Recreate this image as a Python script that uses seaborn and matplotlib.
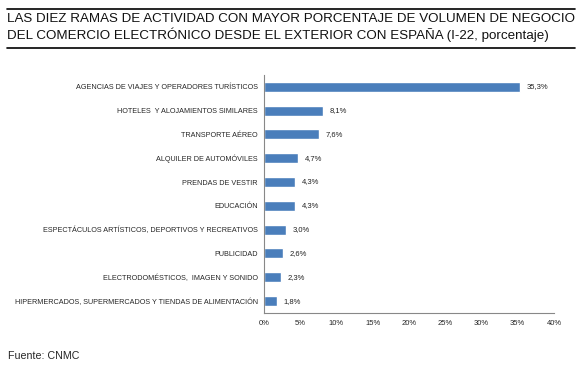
import matplotlib
matplotlib.use("Agg")
import matplotlib.pyplot as plt
import seaborn as sns
import pandas as pd
import numpy as np
from matplotlib.lines import Line2D
from matplotlib.ticker import FuncFormatter

# Datos
ramas = [
    "AGENCIAS DE VIAJES Y OPERADORES TURÍSTICOS",
    "HOTELES  Y ALOJAMIENTOS SIMILARES",
    "TRANSPORTE AÉREO",
    "ALQUILER DE AUTOMÓVILES",
    "PRENDAS DE VESTIR",
    "EDUCACIÓN",
    "ESPECTÁCULOS ARTÍSTICOS, DEPORTIVOS Y RECREATIVOS",
    "PUBLICIDAD",
    "ELECTRODOMÉSTICOS,  IMAGEN Y SONIDO",
    "HIPERMERCADOS, SUPERMERCADOS Y TIENDAS DE ALIMENTACIÓN",
]
porcentajes = [35.3, 8.1, 7.6, 4.7, 4.3, 4.3, 3.0, 2.6, 2.3, 1.8]
ticks_x = [0, 5, 10, 15, 20, 25, 30, 35, 40]

titulo_1 = "LAS DIEZ RAMAS DE ACTIVIDAD CON MAYOR PORCENTAJE DE VOLUMEN DE NEGOCIO"
titulo_2 = "DEL COMERCIO ELECTRÓNICO DESDE EL EXTERIOR CON ESPAÑA (I-22, porcentaje)"
fuente = "Fuente: CNMC"

df = pd.DataFrame({"rama": ramas, "valor": porcentajes})

sns.set_style("white")
plt.rcParams["font.family"] = ["Liberation Sans", "DejaVu Sans"]

fig = plt.figure(figsize=(5.82, 3.78), dpi=100)
ax = fig.add_axes([0.4536, 0.172, 0.4983, 0.630])

sns.barplot(data=df, y="rama", x="valor", color="#4a7ebb", width=0.42,
            saturation=1, ax=ax)

# Etiquetas de valor
for i, v in enumerate(porcentajes):
    ax.text(v + 0.9, i, f"{v:.1f}%".replace(".", ","), va="center",
            ha="left", fontsize=5.5, color="#222222")

ax.set_xlim(0, 40)
ax.set_ylim(len(ramas) - 0.5, -0.5)
ax.set_xticks(ticks_x)
ax.xaxis.set_major_formatter(FuncFormatter(lambda x, p: f"{int(x)}%"))
ax.set_xlabel("")
ax.set_ylabel("")

# Marcas del eje y en los límites de categoría
ax.set_yticks(np.arange(len(ramas)))
ax.set_yticklabels(ramas)
ax.set_yticks(np.arange(-0.5, len(ramas), 1), minor=True)
ax.tick_params(axis="y", which="major", length=0, pad=4.5, labelsize=5.2)
ax.tick_params(axis="y", which="minor", length=3, width=0.6, color="#888888",
               direction="out")
ax.tick_params(axis="x", which="major", length=3, width=0.6, color="#888888",
               direction="out", labelsize=5.5, pad=2)

for s in ["top", "right"]:
    ax.spines[s].set_visible(False)
for s in ["left", "bottom"]:
    ax.spines[s].set_color("#888888")
    ax.spines[s].set_linewidth(0.8)

# Título con líneas
fig.text(0.012, 0.950, titulo_1, fontsize=9.6, ha="left", va="center",
         color="#111111")
fig.text(0.012, 0.907, titulo_2, fontsize=9.6, ha="left", va="center",
         color="#111111")
fig.add_artist(Line2D([0.012, 0.988], [0.976, 0.976], color="black", lw=1.2))
fig.add_artist(Line2D([0.012, 0.988], [0.873, 0.873], color="black", lw=1.2))

fig.text(0.014, 0.058, fuente, fontsize=7.7, ha="left", va="center")

fig.savefig("out.png", dpi=100)
